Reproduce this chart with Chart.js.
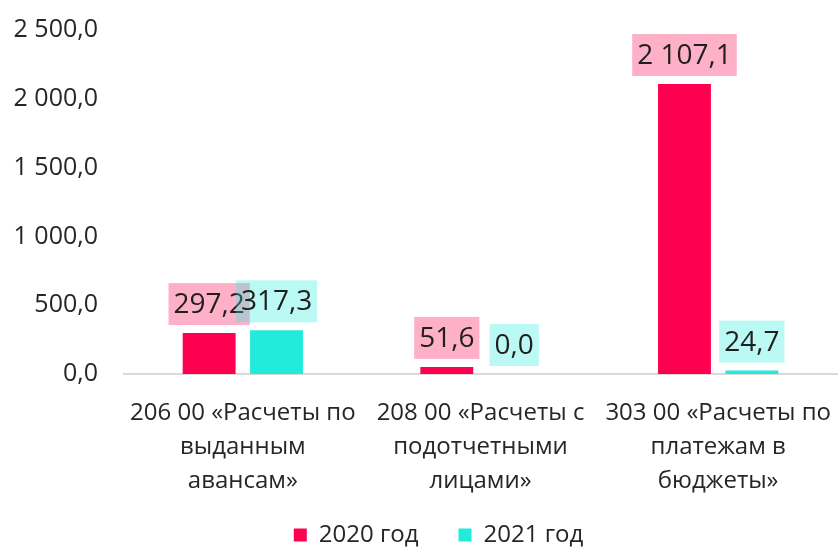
<!DOCTYPE html>
<html>
<head>
<meta charset="utf-8">
<script src="https://cdn.jsdelivr.net/npm/chart.js@4/dist/chart.umd.min.js"></script>
<style>
  html, body { margin: 0; padding: 0; background: #fff; }
  #wrap { width: 838px; height: 549px; }
</style>
</head>
<body>
<div id="wrap"><canvas id="grafica"></canvas></div>
<script>
const categorias = [
    ["206 00 «Расчеты по", "выданным", "авансам»"],
    ["208 00 «Расчеты с", "подотчетными", "лицами»"],
    ["303 00 «Расчеты по", "платежам в", "бюджеты»"]
];
const valores2020 = [297.2, 51.6, 2107.1];
const valores2021 = [317.3, 0.0, 24.7];
const series = ["2020 год", "2021 год"];

const rojo = "rgb(255, 0, 80)";
const cian = "rgb(35, 235, 220)";
const fondoRojo = "rgba(255, 0, 80, 0.31)";
const fondoCian = "rgba(35, 235, 220, 0.31)";

function formato(v) {
    const partes = v.toFixed(1).split(".");
    return partes[0].replace(/\B(?=(\d{3})+(?!\d))/g, " ") + "," + partes[1];
}

Chart.defaults.font.family = "'Open Sans', sans-serif";
Chart.defaults.color = "#262626";

// etiquetas con fondo encima de cada barra
const etiquetas = {
    id: "etiquetas",
    afterLayout(chart) {
        // mover la leyenda: un poco a la derecha y hacia arriba
        chart.legend.left += 20;
        chart.legend.right += 20;
        chart.legend.top -= 30;
    },
    afterDatasetsDraw(chart) {
        const c = chart.ctx;
        c.save();
        c.font = "28px 'Open Sans', sans-serif";
        c.textAlign = "center";
        c.textBaseline = "middle";
        chart.data.datasets.forEach((ds, i) => {
            const meta = chart.getDatasetMeta(i);
            meta.data.forEach((bar, j) => {
                const txt = formato(ds.data[j]);
                const w = c.measureText(txt).width + 10;
                const h = 42;
                const abajo = bar.y - 8;
                c.fillStyle = ds.fondo;
                c.fillRect(bar.x - w / 2, abajo - h, w, h);
                c.fillStyle = "#1f1f1f";
                c.fillText(txt, bar.x, abajo - h / 2 + 1);
            });
        });
        c.restore();
    }
};

const ctx = document.getElementById("grafica");

new Chart(ctx, {
    type: "bar",
    data: {
        labels: categorias,
        datasets: [
            {
                label: series[0],
                data: valores2020,
                backgroundColor: rojo,
                fondo: fondoRojo,
                categoryPercentage: 0.567,
                barPercentage: 0.785
            },
            {
                label: series[1],
                data: valores2021,
                backgroundColor: cian,
                fondo: fondoCian,
                categoryPercentage: 0.567,
                barPercentage: 0.785
            }
        ]
    },
    options: {
        responsive: true,
        maintainAspectRatio: false,
        animation: false,
        layout: { padding: { top: 30, right: 1, left: 0, bottom: 0 } },
        plugins: {
            tooltip: { enabled: false },
            legend: {
                position: "bottom",
                maxHeight: 36,
                labels: {
                    boxWidth: 13,
                    boxHeight: 13,
                    padding: 40,
                    font: { size: 24 },
                    color: "#262626"
                }
            }
        },
        scales: {
            x: {
                grid: { display: false, drawTicks: false },
                border: { display: true, color: "#D9D9D9", width: 2 },
                ticks: {
                    padding: 22,
                    maxRotation: 0,
                    autoSkip: false,
                    font: { size: 24, lineHeight: 1.42 },
                    color: "#262626"
                },
                afterFit(axis) {
                    axis.height = 139;
                    axis.paddingLeft = 0;
                    axis.paddingRight = 0;
                }
            },
            y: {
                min: 0,
                max: 2500,
                grid: { display: false, drawTicks: false },
                border: { display: false },
                ticks: {
                    stepSize: 500,
                    padding: 26,
                    font: { size: 25 },
                    color: "#262626",
                    callback: v => formato(v)
                },
                afterFit(axis) {
                    axis.width = 124;
                    axis.paddingTop = 0;
                    axis.paddingBottom = 0;
                }
            }
        }
    },
    plugins: [etiquetas]
});
</script>
</body>
</html>
